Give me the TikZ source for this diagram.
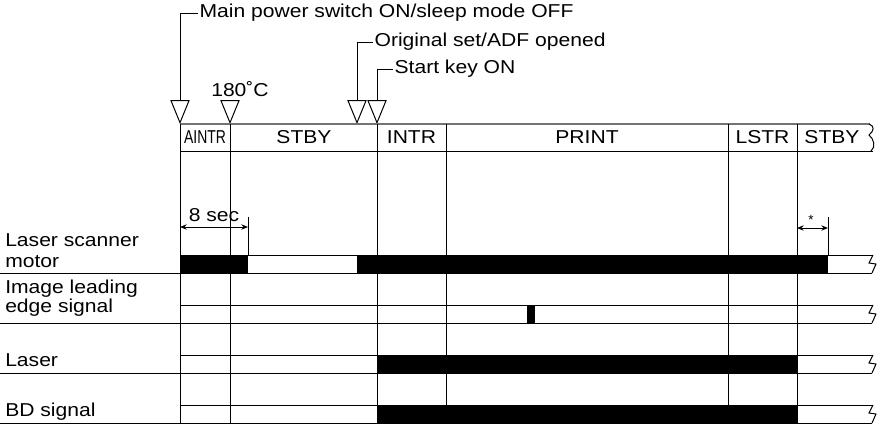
\documentclass[tikz,border=0pt]{standalone}
\usepackage{fontspec}
\setmainfont[FakeStretch=1.13]{Liberation Sans}
\newfontfamily\plainsans{Liberation Sans}
\usetikzlibrary{shapes.geometric,arrows.meta}
\begin{document}
\begin{tikzpicture}[x=0.75pt,y=-0.75pt,
  font=\fontsize{14}{16}\selectfont,
  grid/.style={line width=0.75pt,black},
  frameline/.style={line width=1.4pt,black!55},
  sigbar/.style={fill=black,draw=none},
  evt/.style={draw,line width=0.75pt,isosceles triangle,isosceles triangle stretches,
    shape border rotate=270,minimum width=13.5pt,minimum height=16.5pt,inner sep=0pt,anchor=apex},
  lbl/.style={anchor=base west,inner sep=0pt},
  evlbl/.style={anchor=west,inner sep=1pt},
  hdr/.style={inner sep=0pt},
  leader/.style={line width=0.75pt},
  dimarr/.style={line width=0.75pt,{Stealth[length=5pt,width=4pt]}-{Stealth[length=5pt,width=4pt]}},
  brk/.style={line width=0.75pt}]
\useasboundingbox (0,0) rectangle (883,426);

% event triangles
\node[evt] (t1) at (180,124) {};
\node[evt] (t2) at (230,124) {};
\node[evt] (t3) at (357,124) {};
\node[evt] (t4) at (377,124) {};

% event labels
\node[evlbl] (e1) at (198,13) {Main power switch ON/sleep mode OFF};
\node[evlbl] (e3) at (373,42) {Original set/ADF opened};
\node[evlbl] (e4) at (393,69) {Start key ON};
\node[hdr] (e2) at (240,89) {180˚C};
\draw[leader] (t1.north) |- (e1.west);
\draw[leader] (t3.north) |- (e3.west);
\draw[leader] (t4.north) |- (e4.west);

% header band
\draw[frameline] (180,124) -- (870,124);
\draw[grid] (180,151) -- (873,151);
\draw[brk] (869,124) .. controls (875,126) and (874,131) .. (869,135)
  .. controls (874,139) and (876,147) .. (871,151);
\node[hdr] (h1) at (205,137.5) {\scalebox{0.66}[1]{AINTR}};
\node[hdr] (h2) at (304,137.5) {STBY};
\node[hdr] (h3) at (411.5,137.5) {INTR};
\node[hdr] (h4) at (587,137.5) {PRINT};
\node[hdr] (h5) at (762.5,137.5) {LSTR};
\node[hdr] (h6) at (832,137.5) {STBY};

% vertical time lines
\foreach \x in {180,230,377,446,728,797}
  \draw[grid] (\x,124) -- (\x,423);

% left labels
\node[lbl] (l1a) at (5,246) {Laser scanner};
\node[lbl] (l1b) at (5,267) {motor};
\node[lbl] (l2a) at (5,293) {Image leading};
\node[lbl] (l2b) at (5,312) {edge signal};
\node[lbl] (l3) at (5,366) {Laser};
\node[lbl] (l4) at (5,416) {BD signal};

% Laser scanner motor row
\fill[sigbar] (180,255) rectangle (248,273);
\fill[sigbar] (357,255) rectangle (828,273);
\draw[grid] (180,255) -- (873,255);
\draw[grid] (0,273) -- (872,273);
\draw[brk] (873,255) -- (869,263) -- (876,264) -- (872,273);

% Image leading edge signal row
\fill[sigbar] (527,305) rectangle (535,323);
\draw[grid] (180,305) -- (873,305);
\draw[grid] (0,323) -- (872,323);
\draw[brk] (873,305) -- (869,313) -- (876,314) -- (872,323);

% Laser row
\fill[sigbar] (377,355) rectangle (797,373);
\draw[grid] (180,355) -- (873,355);
\draw[grid] (0,373) -- (872,373);
\draw[brk] (873,355) -- (869,363) -- (876,364) -- (872,373);

% BD signal row
\fill[sigbar] (377,405) rectangle (797,423);
\draw[grid] (180,405) -- (873,405);
\draw[grid] (0,423) -- (872,423);
\draw[brk] (873,405) -- (869,413) -- (876,414) -- (872,423);

% dimension: 8 sec
\coordinate (d1a) at (180,227);
\coordinate (d1b) at (248,227);
\coordinate (d1t) at (248,217);
\coordinate (d1m) at (248,255);
\draw[grid] (d1t) -- (d1m);
\draw[dimarr] (d1a) -- (d1b);
\node[anchor=base,inner sep=0pt] (s8) at (214,221) {8 sec};

% dimension: *
\coordinate (d2a) at (797,228);
\coordinate (d2b) at (828,228);
\coordinate (d2t) at (828,217);
\coordinate (d2m) at (828,255);
\draw[grid] (d2t) -- (d2m);
\draw[dimarr] (d2a) -- (d2b);
\node[inner sep=0pt,font=\plainsans\fontsize{10}{11}\selectfont] (st) at (811,220) {*};
\end{tikzpicture}
\end{document}
